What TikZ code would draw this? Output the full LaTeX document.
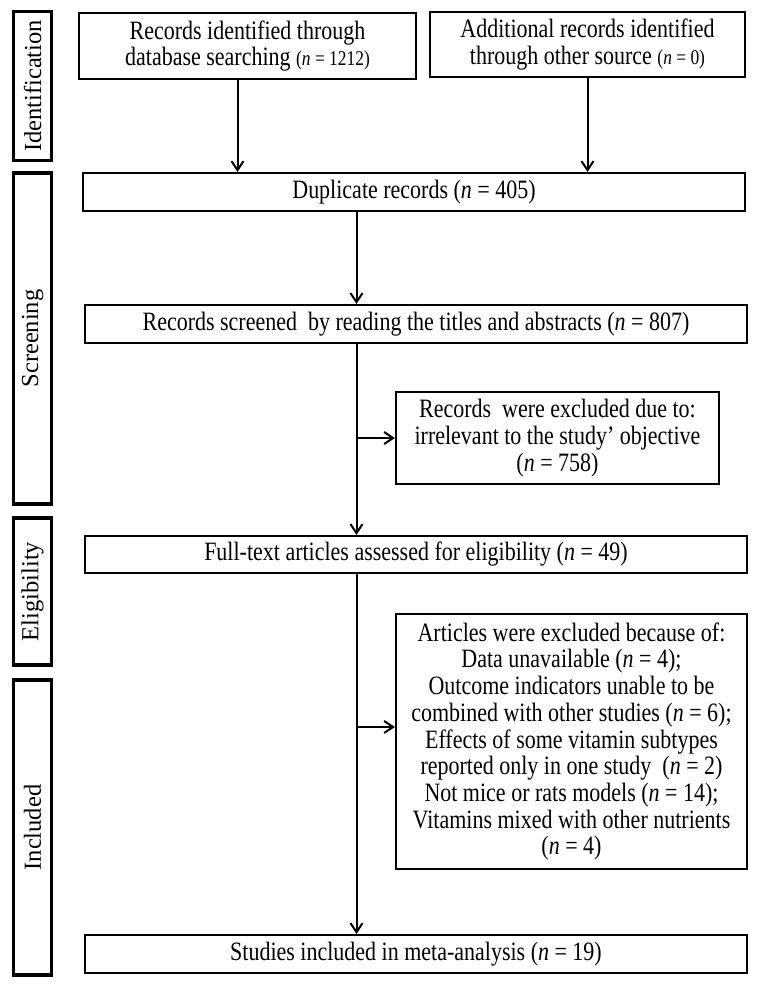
\documentclass[tikz,border=0pt]{standalone}
\usepackage{fontspec}
\setmainfont{Liberation Serif}[FakeStretch=0.83]
\newfontfamily\labfont{Liberation Serif}
\usetikzlibrary{arrows.meta,calc}
\newcommand\smn[1]{{\fontsize{21}{26.7}\selectfont #1}}
\begin{document}
\begin{tikzpicture}[x=1pt,y=-1pt,
  box/.style={draw,line width=2.2pt,inner sep=0pt,align=center,
    font=\fontsize{26.5}{26.7}\selectfont},
  lab/.style={draw,line width=3.3pt,inner sep=0pt,rotate=90,
    minimum height=38pt,font=\labfont\fontsize{24.5}{26}\selectfont},
  arr/.style={-{Straight Barb[length=9pt,width=12pt,line width=2pt]},line width=2pt}]
\useasboundingbox (0,0) rectangle (756,985);
% side labels
\node[lab,minimum width=149pt] (lid) at (32.6,86) {Identification};
\node[lab,minimum width=331pt] (lsc) at (32.6,338.5) {Screening};
\node[lab,minimum width=147pt] (lel) at (32.6,591.5) {Eligibility};
\node[lab,minimum width=295pt] (lin) at (32.6,827.5) {Included};
% boxes
\node[box,minimum width=337pt,minimum height=66pt] (a) at (247.5,46)
  {Records identified through\\database searching \smn{(\textit{n} = 1212)}};
\node[box,minimum width=315pt,minimum height=65pt] (b) at (587.5,44.5)
  {Additional records identified\\through other source \smn{(\textit{n} = 0)}};
\node[box,minimum width=662pt,minimum height=38pt] (dup) at (414,192)
  {Duplicate records (\textit{n} = 405)};
\node[box,minimum width=662pt,minimum height=38pt] (scr) at (416,324)
  {Records screened\ \ by reading the titles and abstracts (\textit{n} = 807)};
\node[box,minimum width=323pt,minimum height=92pt] (ex1) at (557.5,438)
  {Records\ \ were excluded due to:\\irrelevant to the study’ objective\\(\textit{n} = 758)};
\node[box,minimum width=662pt,minimum height=37pt] (full) at (416,554.5)
  {Full-text articles assessed for eligibility (\textit{n} = 49)};
\node[box,minimum width=351pt,minimum height=255pt] (ex2) at (571.5,741.5)
  {Articles were excluded because of:\\
   Data unavailable (\textit{n} = 4);\\
   Outcome indicators unable to be\\
   combined with other studies (\textit{n} = 6);\\
   Effects of some vitamin subtypes\\
   reported only in one study\ \ (\textit{n} = 2)\\
   Not mice or rats models (\textit{n} = 14);\\
   Vitamins mixed with other nutrients\\
   (\textit{n} = 4)};
\node[box,minimum width=662pt,minimum height=38pt] (stu) at (416,954)
  {Studies included in meta-analysis (\textit{n} = 19)};
% connectors
\coordinate (c) at (356.5,0);
\draw[arr] ([xshift=-10pt]a.south) -- ([xshift=-10pt]a.south |- dup.north);
\draw[arr] (b.south) -- (b.south |- dup.north);
\draw[arr] (dup.south -| c) -- (scr.north -| c);
\draw[arr] (scr.south -| c) -- (full.north -| c);
\draw[arr] (ex1.west -| c) -- (ex1.west);
\draw[arr] (full.south -| c) -- (stu.north -| c);
\draw[arr] ([yshift=14.5pt]ex2.west -| c) -- ([yshift=14.5pt]ex2.west);
\end{tikzpicture}
\end{document}
